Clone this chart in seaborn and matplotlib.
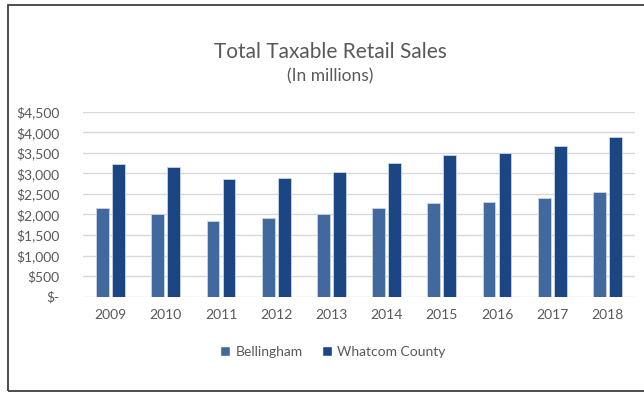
import matplotlib
matplotlib.use("Agg")
import matplotlib.pyplot as plt
import matplotlib.patches as mpatches
from matplotlib.ticker import FuncFormatter
import seaborn as sns
import pandas as pd

years = ["2009", "2010", "2011", "2012", "2013", "2014", "2015", "2016", "2017", "2018"]
bellingham = [2150, 2020, 1830, 1920, 2020, 2165, 2270, 2295, 2400, 2545]
whatcom = [3225, 3145, 2855, 2895, 3025, 3250, 3440, 3505, 3665, 3875]
series_names = ["Bellingham", "Whatcom County"]
colors = ["#41699E", "#1C4584"]

df = pd.DataFrame({
    "Year": years * 2,
    "Sales": bellingham + whatcom,
    "Series": [series_names[0]] * len(years) + [series_names[1]] * len(years),
})

sns.set_theme(style="white")
plt.rcParams["font.family"] = ["Lato", "DejaVu Sans"]
text_gray = "#595959"

fig = plt.figure(figsize=(6.44, 3.93), dpi=100)
ax = fig.add_axes([83 / 644, 1 - 296.7 / 393, 552 / 644, 185 / 393])

sns.barplot(data=df, x="Year", y="Sales", hue="Series", palette=colors,
            saturation=1, width=0.58, gap=0.2, ax=ax, legend=False,
            edgecolor="#c9d4e6", linewidth=0.6)

ax.set_ylim(0, 4500)
ax.set_yticks(range(0, 4501, 500))
ax.yaxis.set_major_formatter(FuncFormatter(lambda v, p: "$-" if v == 0 else f"${int(v):,}"))
ax.grid(axis="y", color="#d9d9d9", linewidth=1.0)
ax.set_axisbelow(True)
for s in ax.spines.values():
    s.set_visible(False)
ax.set_xlabel("")
ax.set_ylabel("")
ax.tick_params(axis="y", length=0, pad=17, labelsize=10, labelcolor=text_gray)
ax.tick_params(axis="x", length=0, pad=9, labelsize=10, labelcolor=text_gray)

fig.text(330 / 644, 1 - 52 / 393, "Total Taxable Retail Sales", ha="center", va="center",
         fontsize=15, color=text_gray)
fig.text(330 / 644, 1 - 76 / 393, "(In millions)", ha="center", va="center",
         fontsize=12.5, color=text_gray)

handles = [mpatches.Patch(facecolor=c, label=n) for c, n in zip(colors, series_names)]
leg = fig.legend(handles=handles, loc="center", bbox_to_anchor=(333 / 644, 1 - 352 / 393),
                 ncol=2, frameon=False, fontsize=10, handlelength=0.7, handleheight=0.7,
                 handletextpad=0.4, columnspacing=1.4)
for t in leg.get_texts():
    t.set_color(text_gray)

border = mpatches.Rectangle((8 / 644, 1 - 391 / 393), 700 / 644, 386 / 393,
                            transform=fig.transFigure, fill=False,
                            edgecolor="#3f3f3f", linewidth=1.3, clip_on=False)
fig.patches.append(border)

fig.savefig("out.png", dpi=100)
